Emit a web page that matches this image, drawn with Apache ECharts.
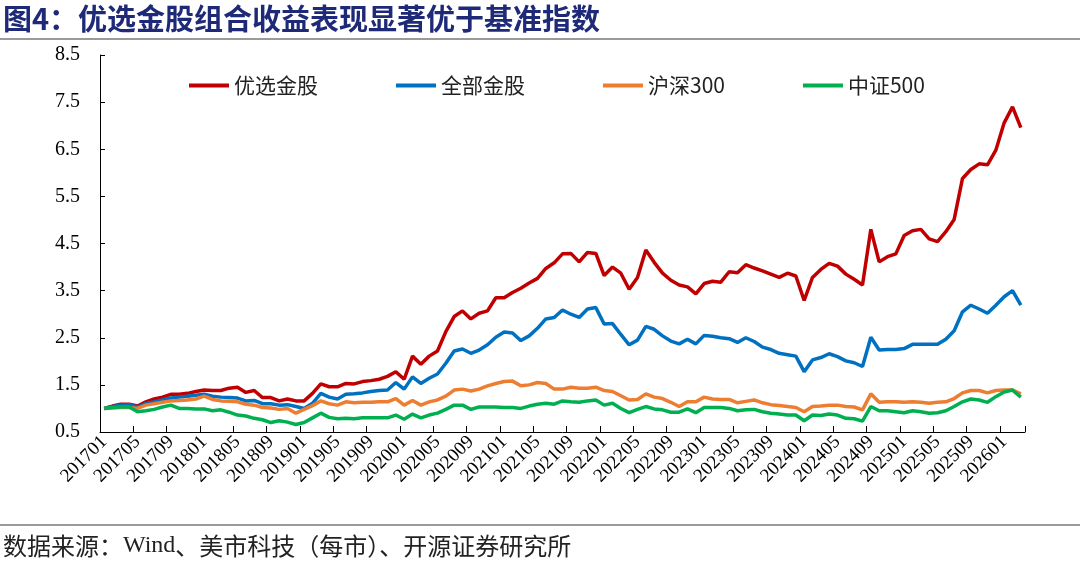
<!DOCTYPE html>
<html><head><meta charset="utf-8">
<script src="https://cdn.jsdelivr.net/npm/echarts@6/dist/echarts.min.js"></script>
<style>html,body{margin:0;padding:0;background:#fff}#c{width:1080px;height:568px}</style>
</head><body><div id="c"></div>
<script>
// Categories: monthly 201701 .. 202603
const categories = [
'201701','201702','201703','201704','201705','201706','201707','201708','201709','201710','201711','201712',
'201801','201802','201803','201804','201805','201806','201807','201808','201809','201810','201811','201812',
'201901','201902','201903','201904','201905','201906','201907','201908','201909','201910','201911','201912',
'202001','202002','202003','202004','202005','202006','202007','202008','202009','202010','202011','202012',
'202101','202102','202103','202104','202105','202106','202107','202108','202109','202110','202111','202112',
'202201','202202','202203','202204','202205','202206','202207','202208','202209','202210','202211','202212',
'202301','202302','202303','202304','202305','202306','202307','202308','202309','202310','202311','202312',
'202401','202402','202403','202404','202405','202406','202407','202408','202409','202410','202411','202412',
'202501','202502','202503','202504','202505','202506','202507','202508','202509','202510','202511','202512',
'202601','202602','202603'];

const seriesNames = ['优选金股','全部金股','沪深300','中证500'];

const youxuan = [
1.00,1.05,1.09,1.09,1.05,1.14,1.20,1.24,1.30,1.30,1.32,1.36,
1.39,1.38,1.38,1.43,1.45,1.34,1.38,1.23,1.23,1.16,1.20,1.16,
1.16,1.32,1.52,1.46,1.46,1.53,1.52,1.57,1.59,1.62,1.68,1.78,
1.62,2.11,1.94,2.11,2.22,2.63,2.95,3.07,2.90,3.02,3.07,3.35,
3.35,3.46,3.55,3.66,3.76,3.97,4.09,4.28,4.29,4.11,4.31,4.29,
3.82,4.00,3.87,3.53,3.78,4.36,4.10,3.87,3.72,3.62,3.58,3.43,
3.65,3.70,3.68,3.90,3.88,4.05,3.98,3.92,3.85,3.78,3.87,3.81,
3.29,3.78,3.95,4.08,4.02,3.85,3.74,3.62,4.80,4.11,4.22,4.28,
4.67,4.77,4.80,4.60,4.54,4.75,5.01,5.88,6.07,6.19,6.17,6.48,
7.06,7.40,6.96];

const quanbu = [
1.00,1.04,1.07,1.08,1.03,1.10,1.14,1.18,1.22,1.24,1.26,1.28,
1.30,1.26,1.24,1.23,1.22,1.16,1.17,1.10,1.10,1.07,1.08,1.04,
1.00,1.11,1.32,1.24,1.20,1.30,1.31,1.33,1.36,1.38,1.39,1.55,
1.41,1.67,1.53,1.64,1.73,1.96,2.22,2.26,2.17,2.24,2.35,2.51,
2.62,2.60,2.44,2.54,2.70,2.90,2.93,3.09,3.00,2.93,3.11,3.14,
2.79,2.80,2.57,2.35,2.45,2.74,2.68,2.54,2.43,2.37,2.47,2.37,
2.55,2.53,2.50,2.48,2.40,2.50,2.42,2.30,2.25,2.17,2.14,2.11,
1.78,2.03,2.08,2.16,2.10,2.01,1.97,1.89,2.51,2.24,2.25,2.25,
2.27,2.36,2.36,2.36,2.36,2.47,2.65,3.05,3.19,3.11,3.02,3.19,
3.37,3.50,3.19];

const hs300 = [
1.00,1.01,1.02,1.02,1.00,1.07,1.10,1.13,1.16,1.17,1.18,1.20,
1.26,1.19,1.16,1.15,1.14,1.09,1.07,1.02,1.01,0.98,1.00,0.90,
0.98,1.06,1.16,1.10,1.07,1.14,1.12,1.13,1.13,1.14,1.14,1.21,
1.07,1.17,1.07,1.14,1.18,1.26,1.39,1.41,1.37,1.41,1.48,1.53,
1.57,1.58,1.48,1.50,1.55,1.53,1.41,1.41,1.45,1.43,1.43,1.45,
1.38,1.36,1.27,1.18,1.19,1.31,1.24,1.21,1.13,1.04,1.14,1.14,
1.24,1.20,1.19,1.19,1.12,1.15,1.18,1.12,1.08,1.06,1.04,1.02,
0.93,1.04,1.05,1.07,1.07,1.04,1.03,0.97,1.31,1.13,1.14,1.14,
1.13,1.14,1.13,1.11,1.13,1.14,1.21,1.33,1.38,1.38,1.33,1.38,
1.39,1.39,1.31];

const zz500 = [
1.00,1.02,1.03,1.03,0.93,0.95,0.98,1.03,1.07,1.00,1.00,0.99,
0.99,0.95,0.97,0.92,0.86,0.84,0.79,0.76,0.70,0.74,0.71,0.66,
0.70,0.80,0.90,0.81,0.78,0.79,0.78,0.80,0.80,0.80,0.80,0.86,
0.77,0.88,0.80,0.86,0.90,0.98,1.07,1.07,0.98,1.03,1.03,1.03,
1.02,1.02,1.00,1.05,1.09,1.11,1.09,1.16,1.14,1.13,1.16,1.18,
1.07,1.11,1.00,0.91,0.98,1.04,0.99,0.97,0.92,0.92,0.99,0.91,
1.02,1.02,1.02,1.00,0.95,0.97,0.98,0.93,0.90,0.88,0.86,0.86,
0.74,0.86,0.85,0.88,0.86,0.79,0.78,0.73,1.04,0.95,0.95,0.93,
0.91,0.95,0.93,0.90,0.91,0.95,1.04,1.14,1.20,1.18,1.13,1.25,
1.35,1.39,1.24];

const yMin = 0.5, yMax = 8.5, yStep = 1;
const colors = ['#C00000','#0070C0','#ED7D31','#00B050'];
const titleText = '图4：优选金股组合收益表现显著优于基准指数';

const chart = echarts.init(document.getElementById('c'), null, {renderer:'canvas'});
const valueSets = [youxuan, quanbu, hs300, zz500];
const serif = '"Liberation Serif","Times New Roman",serif';
const cjk = '"Noto Sans CJK SC","Noto Sans",sans-serif';

chart.setOption({
  animation: false,
  backgroundColor: '#fff',
  color: colors,
  grid: {left: 100, top: 55, width: 925, height: 377, containLabel: false},
  legend: {
    data: seriesNames,
    left: 184, top: 70,
    icon: 'rect', itemWidth: 40, itemHeight: 4, itemGap: 78,
    textStyle: {fontFamily: cjk, fontSize: 21, color: '#222'}
  },
  xAxis: {
    type: 'category', data: categories, boundaryGap: true,
    axisLine: {show: true, lineStyle: {color: '#000', width: 1}},
    axisTick: {show: true, inside: true, length: 6, interval: 3, lineStyle: {color: '#000'}},
    axisLabel: {interval: 3, rotate: 45, margin: 7, fontFamily: serif, fontSize: 19, color: '#000'},
    splitLine: {show: false}
  },
  yAxis: {
    type: 'value', min: yMin, max: yMax, interval: yStep,
    axisLine: {show: true, lineStyle: {color: '#000', width: 1}},
    axisTick: {show: true, inside: true, length: 5, lineStyle: {color: '#000'}},
    axisLabel: {margin: 20, fontFamily: serif, fontSize: 20, color: '#000', formatter: v => v.toFixed(1)},
    splitLine: {show: false}
  },
  series: seriesNames.map((n, k) => ({
    name: n, type: 'line', data: valueSets[k], showSymbol: false, symbol: 'none',
    lineStyle: {width: 3.5, color: colors[k]}, itemStyle: {color: colors[k]},
    emphasis: {disabled: true}
  })),
  graphic: [
    {type: 'text', left: 3, top: 4, style: {text: titleText, font: 'bold 29px ' + cjk, fill: '#1E2A78'}},
    {type: 'rect', left: 0, top: 38, shape: {width: 1080, height: 2}, style: {fill: '#9a9a9a'}},
    {type: 'rect', left: 0, top: 524, shape: {width: 1080, height: 2}, style: {fill: '#9a9a9a'}},
    {type: 'text', left: 3, top: 534, style: {
      text: '{c|数据来源：}{w|Wind}{c|、美市科技（每市）、开源证券研究所}',
      rich: {
        c: {fontFamily: cjk, fontSize: 24, fill: '#222', color: '#222'},
        w: {fontFamily: serif, fontSize: 24, fill: '#222', color: '#222'}
      }
    }}
  ]
});
</script></body></html>
